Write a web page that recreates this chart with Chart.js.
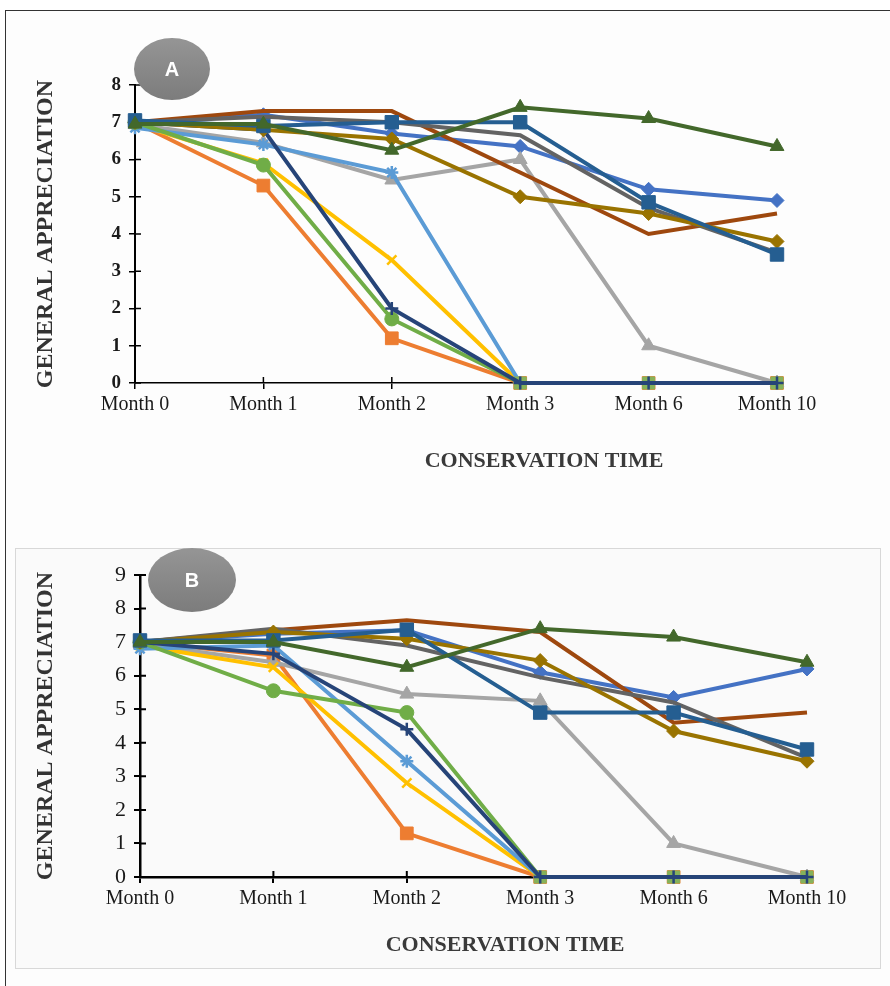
<!DOCTYPE html>
<html>
<head>
<meta charset="utf-8">
<script src="https://cdn.jsdelivr.net/npm/chart.js@4.4.0/dist/chart.umd.min.js"></script>
<style>
  body { margin: 0; background: #fff; }
  #page { position: relative; width: 890px; height: 986px; overflow: hidden; }
  #frame { position: absolute; left: 5px; top: 10px; width: 900px; height: 1000px;
           border-left: 1px solid #333; border-top: 1px solid #333; background: #fdfdfd; }
  #boxB { position: absolute; left: 15px; top: 548px; width: 864px; height: 419px;
          border: 1px solid #d8d8d8; background: #fafafa; }
  canvas { position: absolute; left: 0; }
</style>
</head>
<body>
<div id="page">
  <div id="frame"></div>
  <div id="boxB"></div>
  <canvas id="chartA" width="890" height="500" style="top:0"></canvas>
  <canvas id="chartB" width="890" height="486" style="top:500px"></canvas>
</div>
<script>
// months on the x axis
const months = ['Month 0', 'Month 1', 'Month 2', 'Month 3', 'Month 6', 'Month 10'];
const yMaxA = 8;
const yMaxB = 9;

// panel A values
const blueDiamondA  = [7.0, 7.2, 6.7, 6.35, 5.2, 4.9];
const orangeSquareA = [7.0, 5.3, 1.2, 0, 0, 0];
const grayTriangleA = [6.95, 6.45, 5.45, 6.0, 1.0, 0];
const yellowXA      = [6.95, 5.9, 3.3, 0, 0, 0];
const lightBlueA    = [6.85, 6.4, 5.65, 0, 0, 0];
const greenCircleA  = [7.0, 5.85, 1.72, 0, 0, 0];
const navyPlusA     = [7.0, 6.8, 2.0, 0, 0, 0];
const brownA        = [7.0, 7.3, 7.3, 5.65, 4.0, 4.55];
const darkGrayA     = [7.0, 7.15, 7.0, 6.65, 4.7, 3.5];
const oliveA        = [7.0, 6.8, 6.55, 5.0, 4.55, 3.8];
const darkBlueA     = [7.05, 6.9, 7.0, 7.0, 4.85, 3.45];
const darkGreenA    = [6.95, 6.95, 6.25, 7.4, 7.1, 6.35];

// panel B values
const blueDiamondB  = [7.0, 7.25, 7.35, 6.1, 5.35, 6.2];
const orangeSquareB = [7.0, 6.6, 1.3, 0, 0, 0];
const grayTriangleB = [6.95, 6.4, 5.45, 5.25, 1.0, 0];
const yellowXB      = [6.9, 6.25, 2.8, 0, 0, 0];
const lightBlueB    = [6.8, 6.9, 3.45, 0, 0, 0];
const greenCircleB  = [7.0, 5.55, 4.9, 0, 0, 0];
const navyPlusB     = [7.0, 6.65, 4.4, 0, 0, 0];
const brownB        = [7.0, 7.35, 7.65, 7.3, 4.6, 4.9];
const darkGrayB     = [7.0, 7.4, 6.9, 5.95, 5.2, 3.55];
const oliveB        = [7.0, 7.3, 7.1, 6.45, 4.35, 3.45];
const darkBlueB     = [7.05, 7.05, 7.37, 4.9, 4.9, 3.8];
const darkGreenB    = [7.0, 7.0, 6.25, 7.4, 7.15, 6.4];

// Excel-like series look, same order as the arrays
const seriesStyles = [
  { color: '#4472C4', marker: 'rectRot', r: 7 },
  { color: '#ED7D31', marker: 'rect', r: 9 },
  { color: '#A5A5A5', marker: 'triangle', r: 8 },
  { color: '#FFC000', marker: 'crossRot', r: 6.5 },
  { color: '#5B9BD5', marker: 'star', r: 6.5 },
  { color: '#70AD47', marker: 'circle', r: 7, zeroRect: '#86B25A' },
  { color: '#264478', marker: 'cross', r: 6.5 },
  { color: '#9E480E', marker: false, r: 0 },
  { color: '#636363', marker: false, r: 0 },
  { color: '#997300', marker: 'rectRot', r: 7 },
  { color: '#255E91', marker: 'rect', r: 9.5 },
  { color: '#43682B', marker: 'triangle', r: 8 },
];

const SERIF = '"Liberation Serif", "Times New Roman", serif';

function makeDatasets(list) {
  return list.map((data, i) => {
    const s = seriesStyles[i];
    const stroked = ['cross', 'crossRot', 'star'].includes(s.marker);
    const ds = {
      label: 'Series ' + (i + 1),
      data: data,
      borderColor: s.color,
      backgroundColor: s.color,
      borderWidth: 4,
      tension: 0,
      pointStyle: s.marker,
      pointRadius: s.r,
      pointBorderWidth: stroked ? 2.5 : 1,
      pointBackgroundColor: s.color,
      pointBorderColor: s.color,
      clip: false,
      order: list.length - i, // later series on top, like Excel
    };
    if (s.zeroRect) {
      ds.pointStyle = c => (c.raw === 0 ? 'rect' : s.marker);
      ds.pointRadius = c => (c.raw === 0 ? 8.5 : s.r);
      ds.pointBackgroundColor = c => (c.raw === 0 ? s.zeroRect : s.color);
      ds.pointBorderColor = c => (c.raw === 0 ? s.zeroRect : s.color);
    }
    return ds;
  });
}

// inward tick marks, x-axis title and the round panel badge
const panelDecor = {
  id: 'panelDecor',
  beforeDatasetsDraw(chart, args, opts) {
    const { ctx, chartArea, scales } = chart;
    ctx.save();
    ctx.strokeStyle = '#000';
    ctx.lineWidth = opts.tickWidth;
    ctx.beginPath();
    scales.x.ticks.forEach((t, i) => {
      const px = scales.x.getPixelForTick(i);
      ctx.moveTo(px, chartArea.bottom);
      ctx.lineTo(px, chartArea.bottom - 6);
    });
    scales.y.ticks.forEach((t, i) => {
      const py = scales.y.getPixelForTick(i);
      ctx.moveTo(chartArea.left, py);
      ctx.lineTo(chartArea.left + 6, py);
    });
    ctx.stroke();
    ctx.restore();
  },
  afterDraw(chart, args, opts) {
    const { ctx } = chart;
    ctx.save();
    ctx.font = 'bold 22px ' + SERIF;
    ctx.fillStyle = '#3a3a3a';
    ctx.textAlign = 'center';
    ctx.textBaseline = 'middle';
    ctx.fillText('CONSERVATION TIME', opts.titleX, opts.titleY);

    const b = opts.badge;
    const g = ctx.createLinearGradient(0, b.y - b.ry, 0, b.y + b.ry);
    g.addColorStop(0, '#959595');
    g.addColorStop(1, '#7c7c7c');
    ctx.fillStyle = g;
    ctx.beginPath();
    ctx.ellipse(b.x, b.y, b.rx, b.ry, 0, 0, Math.PI * 2);
    ctx.fill();
    ctx.fillStyle = '#fff';
    ctx.font = 'bold 20px "Liberation Sans", Arial, sans-serif';
    ctx.fillText(b.letter, b.x, b.y + 1);
    ctx.restore();
  }
};
Chart.register(panelDecor);

function buildOptions(cfg) {
  return {
    responsive: false,
    animation: false,
    devicePixelRatio: 1,
    layout: { padding: cfg.padding },
    plugins: {
      legend: { display: false },
      tooltip: { enabled: false },
      panelDecor: cfg.decor,
    },
    scales: {
      x: {
        type: 'category',
        offset: false,
        grid: { display: true, drawOnChartArea: false, drawTicks: true, tickLength: 6,
                color: '#000', lineWidth: cfg.decor.tickWidth, offset: false },
        border: { display: true, color: '#000', width: cfg.xBorder },
        ticks: { color: '#1a1a1a', font: { family: SERIF, size: 20 }, padding: 4,
                 maxRotation: 0, autoSkip: false },
        afterFit: s => { s.height = 100; },
      },
      y: {
        min: 0,
        max: cfg.yMax,
        grid: { display: true, drawOnChartArea: false, drawTicks: true, tickLength: 6,
                color: '#000', lineWidth: cfg.decor.tickWidth },
        border: { display: true, color: '#000', width: cfg.yBorder },
        ticks: { stepSize: 1, color: '#1a1a1a', padding: 8,
                 font: { family: SERIF, size: cfg.yTickSize, weight: cfg.yTickWeight } },
        title: { display: true, text: 'GENERAL APPRECIATION', color: '#333',
                 font: { family: SERIF, size: 24, weight: 'bold' }, padding: { top: 31, bottom: 0 } },
        afterFit: s => { s.width = cfg.yWidth; },
      },
    },
  };
}

new Chart(document.getElementById('chartA'), {
  type: 'line',
  data: {
    labels: months,
    datasets: makeDatasets([blueDiamondA, orangeSquareA, grayTriangleA, yellowXA, lightBlueA,
      greenCircleA, navyPlusA, brownA, darkGrayA, oliveA, darkBlueA, darkGreenA]),
  },
  options: buildOptions({
    padding: { top: 85, right: 113, left: 0, bottom: 17 },
    yWidth: 135, yMax: yMaxA, yTickSize: 19, yTickWeight: 'bold', xBorder: 1.5, yBorder: 2,
    decor: { tickWidth: 1.5, titleX: 544, titleY: 461,
             badge: { x: 172, y: 69, rx: 38, ry: 31, letter: 'A' } },
  }),
});

new Chart(document.getElementById('chartB'), {
  type: 'line',
  data: {
    labels: months,
    datasets: makeDatasets([blueDiamondB, orangeSquareB, grayTriangleB, yellowXB, lightBlueB,
      greenCircleB, navyPlusB, brownB, darkGrayB, oliveB, darkBlueB, darkGreenB]),
  },
  options: buildOptions({
    padding: { top: 75, right: 83, left: 0, bottom: 9 },
    yWidth: 140, yMax: yMaxB, yTickSize: 22, yTickWeight: 'normal', xBorder: 2.5, yBorder: 2.5,
    decor: { tickWidth: 2, titleX: 505, titleY: 445,
             badge: { x: 192, y: 80, rx: 44, ry: 32, letter: 'B' } },
  }),
});
</script>
</body>
</html>
